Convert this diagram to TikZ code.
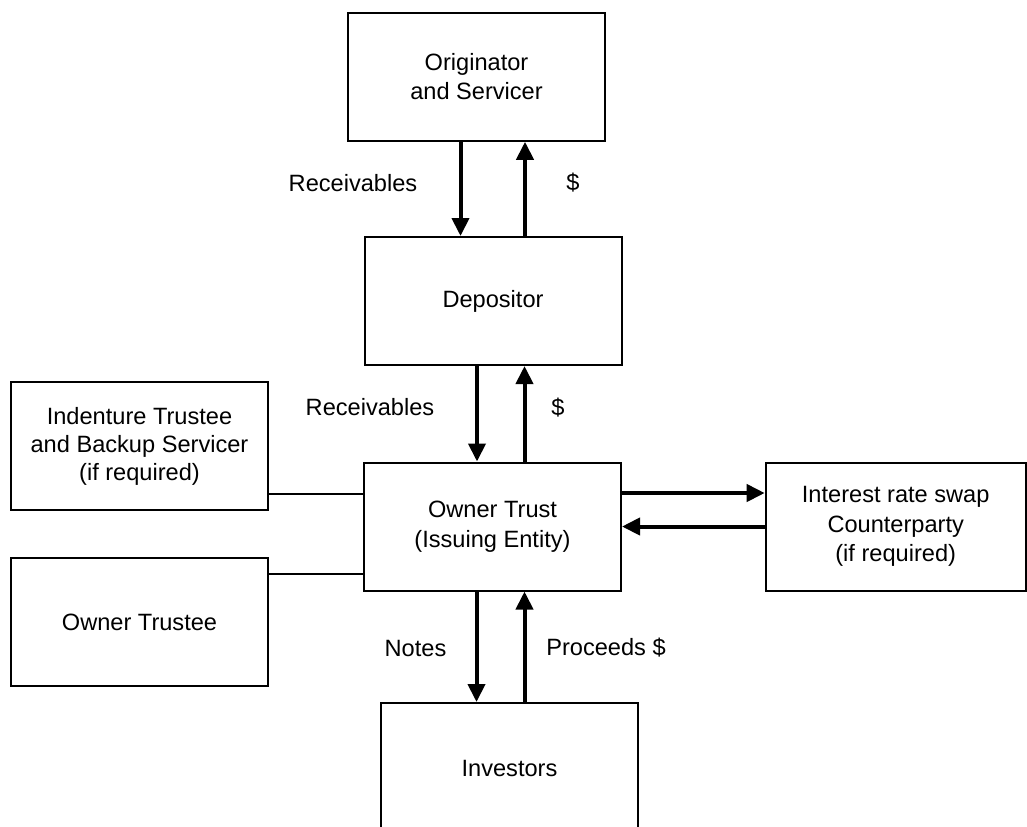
\documentclass[tikz,border=0pt]{standalone}
\usepackage{fontspec}
\setmainfont{Liberation Sans}
\usetikzlibrary{arrows.meta}

\begin{document}
\begin{tikzpicture}[
      x=0.5pt, y=-0.5pt,
      box/.style={draw, line width=1pt, align=center, minimum width=128.5pt,
        minimum height=64pt, font=\fontsize{11.8}{14.8}\selectfont},
      flow/.style={line width=2pt, -{Triangle[length=9pt, width=8.5pt]}},
      link/.style={line width=0.7pt},
      lbl/.style={font=\fontsize{11.8}{14.8}\selectfont}
    ]
      \clip (0,0) rectangle (1027,826);
      % boxes
      \node[box] (orig) at (476.5,76.75) {Originator\\and Servicer};
      \node[box] (dep) at (493,301) {Depositor};
      \node[box] (trust) at (492.5,526.5) {Owner Trust\\(Issuing Entity)};
      \node[box, font=\fontsize{11.8}{14}\selectfont] (indent) at (139.5,446)
          {Indenture Trustee\\and Backup Servicer\\(if required)};
      \node[box] (otee) at (139.5,622.3) {Owner Trustee};
      \node[box, minimum width=130pt] (swap) at (895.7,526.7)
          {Interest rate swap\\Counterparty\\(if required)};
      \node[box, minimum height=65pt] (inv) at (509.5,768) {Investors};

      % labels
      \node[lbl] (recv1) at (353,183) {Receivables};
      \node[lbl] (cash1) at (573,183) {\$};
      \node[lbl] (recv2) at (370,407) {Receivables};
      \node[lbl] (cash2) at (558,408) {\$};
      \node[lbl] (notes) at (415.5,648) {Notes};
      \node[lbl] (procs) at (606,648) {Proceeds \$};

      % flows
      \draw[flow] ([xshift=-8pt]orig.south) -- ([xshift=-8pt]orig.south |- dep.north);
      \draw[flow] ([xshift=16pt]dep.north) -- ([xshift=16pt]dep.north |- orig.south);
      \draw[flow] ([xshift=-8pt]dep.south) -- ([xshift=-8pt]dep.south |- trust.north);
      \draw[flow] ([xshift=16pt]trust.north) -- ([xshift=16pt]trust.north |- dep.south);
      \draw[flow] ([xshift=-8pt]trust.south) -- ([xshift=-8pt]trust.south |- inv.north);
      \draw[flow] ([xshift=16pt]trust.south |- inv.north) -- ([xshift=16pt]trust.south);
      \draw[flow] ([yshift=16.75pt]trust.east) -- ([yshift=16.75pt]trust.east -| swap.west);
      \draw[flow] (swap.west |- trust.east) -- (trust.east);

      % links
      \draw[link] ([yshift=16.25pt]trust.west) -- ([yshift=16.25pt]trust.west -| indent.east);
      \draw[link] ([yshift=-23.75pt]trust.west) -- ([yshift=-23.75pt]trust.west -| otee.east);
    \end{tikzpicture}
\end{document}
